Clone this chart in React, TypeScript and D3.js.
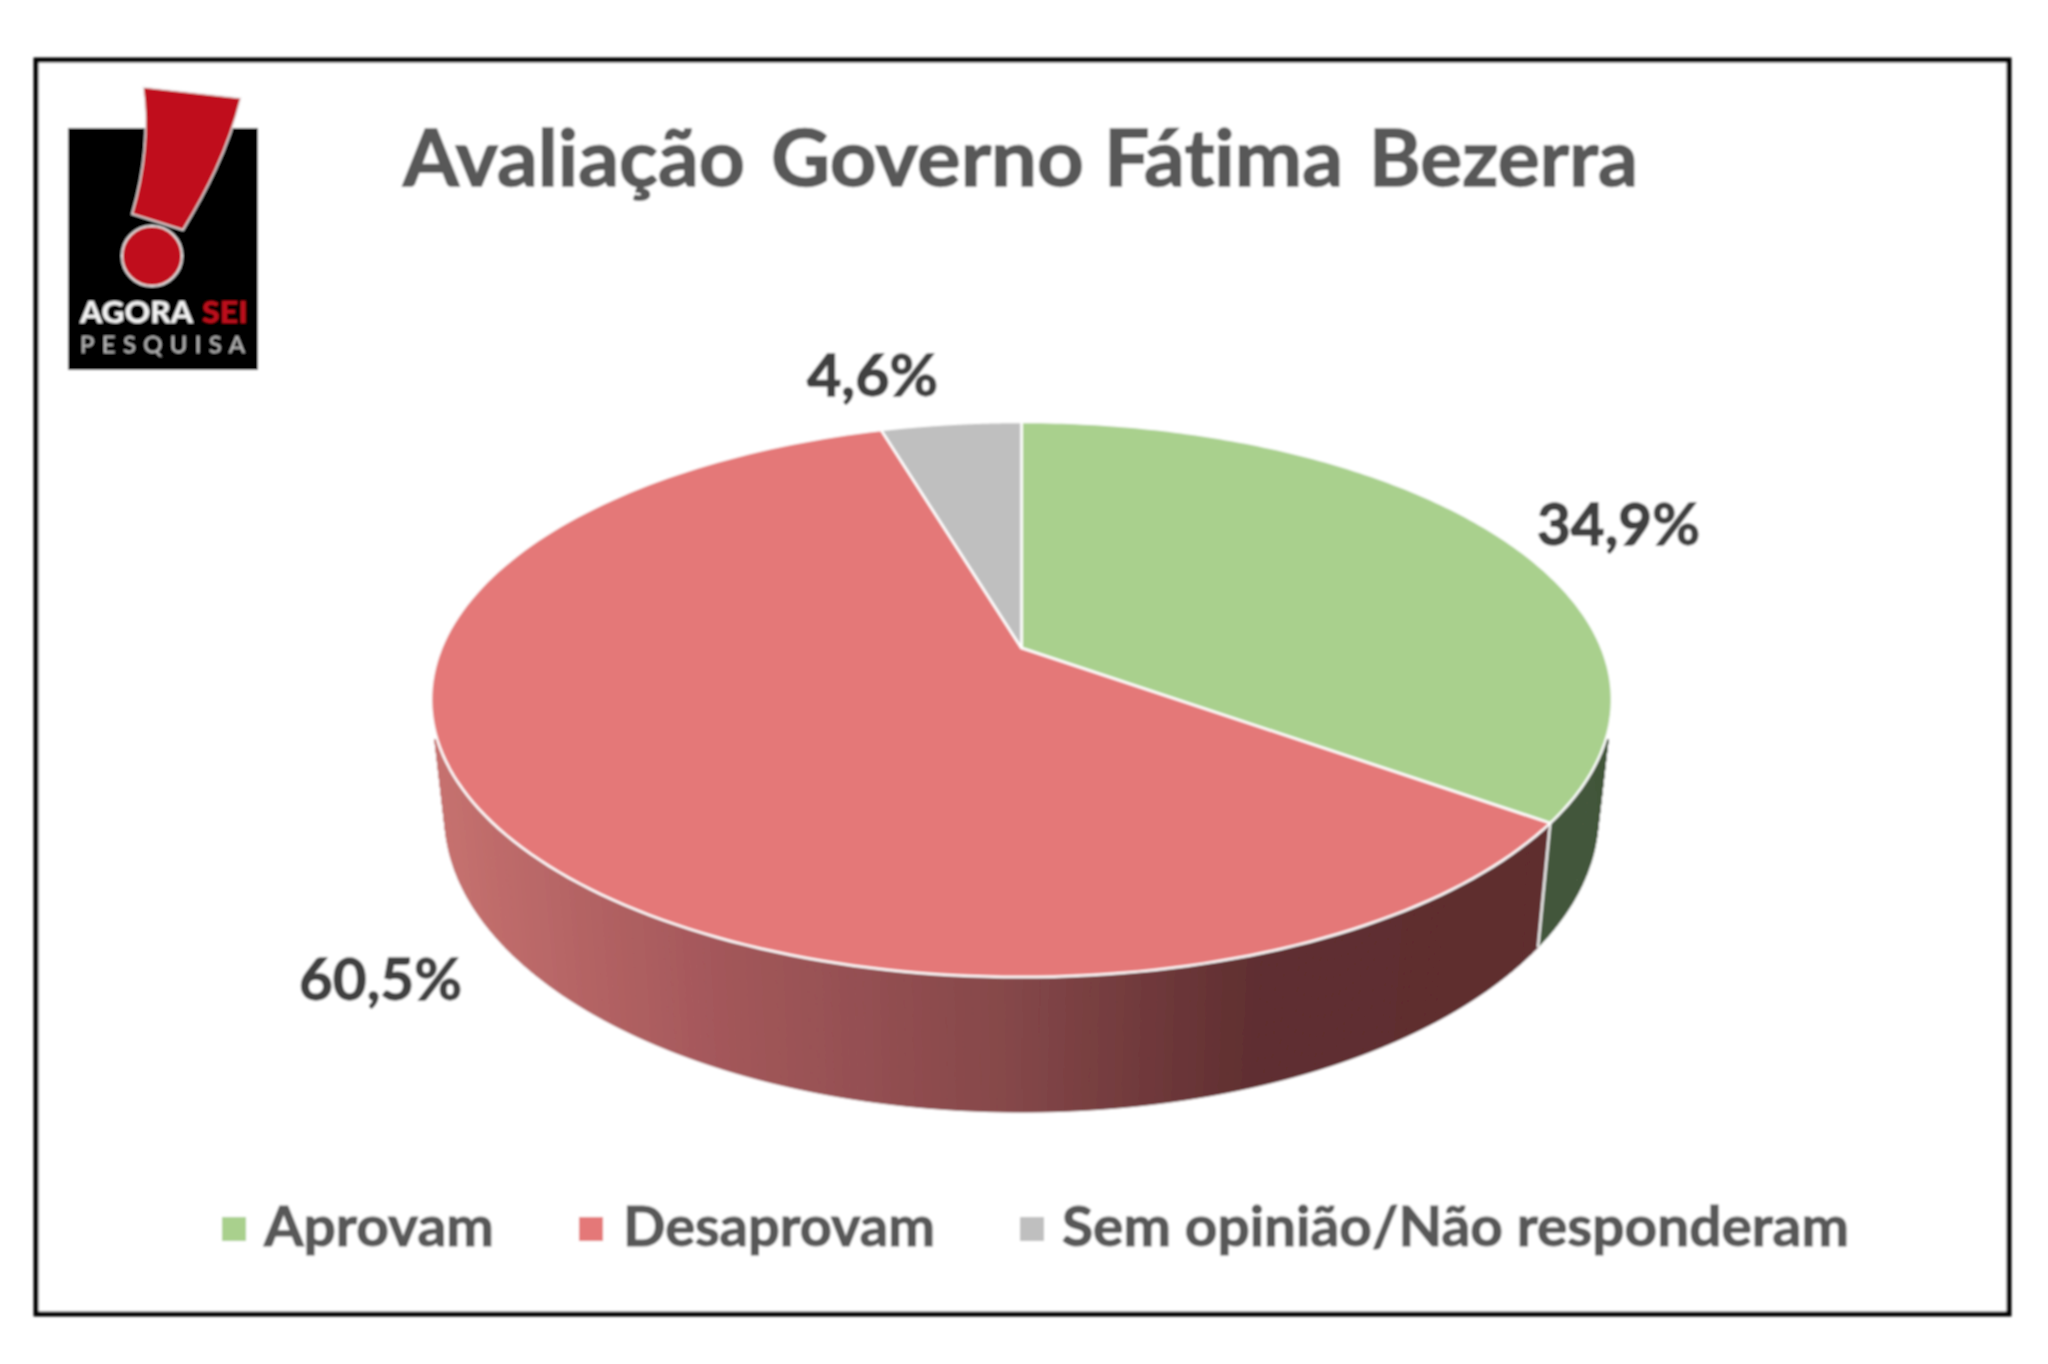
import React from "react";
import * as d3 from "d3";

const categories = ["Aprovam", "Desaprovam", "Sem opinião/Não responderam"];
const values = [34.9, 60.5, 4.6];
const valueLabels = ["34,9%", "60,5%", "4,6%"];
const topColors = ["#A9D08D", "#E47878", "#BFBFBF"];
const titleWords = ["Avaliação", "Governo", "Fátima", "Bezerra"];
const titleWordX = [403, 771, 1104, 1369];
const titleWordW = [342, 313, 239, 269];

const W = 2048, H = 1364;
const cx = 1021.5, y0 = 648, a = 580.2, b = 268, k = -0.1856;
const sx = 0.977, sy = 1.07, y0b = 760;

type Pt = [number, number];
const project = (t: number, bottom: boolean): Pt => {
  const u = Math.sin(t), v = -Math.cos(t), d = 1 + k * v;
  return bottom
    ? [cx + (sx * a * u) / d, y0b + (sy * b * v) / d]
    : [cx + (a * u) / d, y0 + (b * v) / d];
};

const arcs = d3.pie<number>().sort(null)(values);
const line = d3.line<Pt>().curve(d3.curveLinear);
const steps = (s: number, e: number, n: number) => d3.range(n + 1).map((i) => s + ((e - s) * i) / n);

const redShade = d3
  .scaleLinear<string>()
  .domain([431, 700, 1000, 1260, 1540])
  .range(["#C6716F", "#A5585B", "#86484A", "#5F2E30", "#5F2D2F"])
  .clamp(true);
const greenSide = "#42563A";

const legendSquareX = [222, 579, 1020];
const legendTextX = [264, 623, 1062];
const legendTextW = [230, 312, 787];
const labelX = [1537, 299, 807];
const labelY = [545, 1000, 396];
const labelW = [163, 163, 131];

const font = "Lato, 'Open Sans', sans-serif";
const noLig: React.CSSProperties = { fontVariantLigatures: "none" };

export default function App() {
  const strips: React.ReactNode[] = [];
  arcs.forEach((arc, i) => {
    if (i === 2) return;
    const n = Math.ceil((arc.endAngle - arc.startAngle) / 0.012);
    const ts = steps(arc.startAngle, arc.endAngle, n);
    for (let j = 0; j < n; j++) {
      const t0 = ts[j], t1 = ts[j + 1];
      const pts = [project(t0, false), project(t1, false), project(t1, true), project(t0, true)];
      const color = i === 0 ? greenSide : redShade((pts[0][0] + pts[1][0]) / 2);
      strips.push(<path key={`${i}-${j}`} d={line(pts)! + "Z"} fill={color} stroke={color} strokeWidth={1} />);
    }
  });
  const seam = arcs[0].endAngle;
  return (
    <svg width={W} height={H} viewBox={`0 0 ${W} ${H}`} style={{ position: "absolute", left: 0, top: 0, background: "#fff" }}>
      <defs>
        <filter id="soft" x="-5%" y="-5%" width="110%" height="110%">
          <feGaussianBlur stdDeviation="0.9" />
        </filter>
        <clipPath id="sideClip">
          <rect x={0} y={739} width={W} height={H} />
        </clipPath>
      </defs>
      <g filter="url(#soft)">
        <rect x={36} y={60} width={1973} height={1254} fill="#fff" stroke="#000" strokeWidth={5} />
        {/* logo */}
        <rect x={68} y={128} width={190} height={242} fill="#050505" />
        <path d="M143,87 L241,98 C228,150 206,192 183,230 L132,214 C145,170 149,130 143,87 Z" fill="#C0111A" stroke="#eee" strokeWidth={1.5} />
        <circle cx={152} cy={256} r={30} fill="#C0111A" stroke="#eee" strokeWidth={2} />
        <text x={80} y={323} fontFamily={font} fontWeight={900} fontSize={30} fill="#f2f2f2" textLength={113} lengthAdjust="spacingAndGlyphs">AGORA</text>
        <text x={202} y={323} fontFamily={font} fontWeight={900} fontSize={30} fill="#C0111A" textLength={46} lengthAdjust="spacingAndGlyphs">SEI</text>
        <text x={80} y={353} fontFamily={font} fontSize={24} fill="#bdbdbd" textLength={165}>PESQUISA</text>
        {/* title */}
        {titleWords.map((w, i) => (
          <text key={w} x={titleWordX[i]} y={186} fontFamily={font} fontWeight={700} fontSize={78} fill="#595959" stroke="#595959" strokeWidth={1.4} textLength={titleWordW[i]} lengthAdjust="spacingAndGlyphs" style={noLig}>{w}</text>
        ))}
        {/* pie */}
        <g clipPath="url(#sideClip)">{strips}</g>
        <path d={line([project(seam, false), project(seam, true)])!} stroke="#eee" strokeWidth={2.5} fill="none" />
        {arcs.map((arc, i) => {
          const outline: Pt[] = [[cx, y0], ...steps(arc.startAngle, arc.endAngle, 160).map((t) => project(t, false))];
          return <path key={i} d={line(outline)! + "Z"} fill={topColors[i]} stroke="#fff" strokeWidth={2.5} strokeLinejoin="round" />;
        })}
        {/* value labels */}
        {valueLabels.map((s, i) => (
          <text key={s} x={labelX[i]} y={labelY[i]} fontFamily={font} fontWeight={700} fontSize={58} fill="#404040" stroke="#404040" strokeWidth={1.3} textLength={labelW[i]} lengthAdjust="spacingAndGlyphs">{s}</text>
        ))}
        {/* legend */}
        {categories.map((c, i) => (
          <g key={c}>
            <rect x={legendSquareX[i]} y={1217} width={24} height={24} fill={topColors[i]} />
            <text x={legendTextX[i]} y={1246} fontFamily={font} fontWeight={700} fontSize={55} fill="#595959" stroke="#595959" strokeWidth={1.1} textLength={legendTextW[i]} lengthAdjust="spacingAndGlyphs">{c}</text>
          </g>
        ))}
      </g>
    </svg>
  );
}
